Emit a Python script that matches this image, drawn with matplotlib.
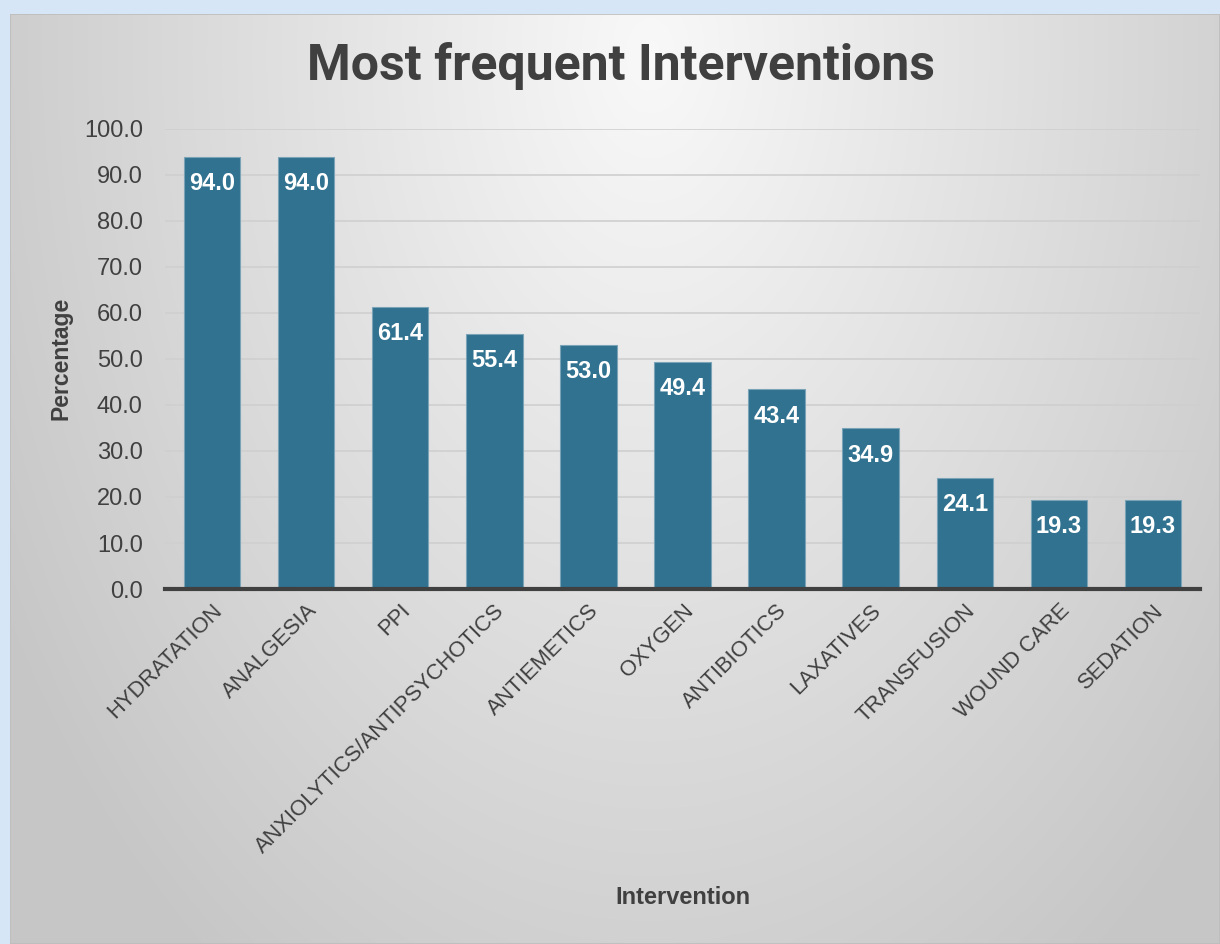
import numpy as np
import matplotlib.pyplot as plt
from matplotlib.patches import Rectangle

plt.rcParams['font.family'] = ['Liberation Sans', 'DejaVu Sans']

categories = ['HYDRATATION', 'ANALGESIA', 'PPI', 'ANXIOLYTICS/ANTIPSYCHOTICS',
              'ANTIEMETICS', 'OXYGEN', 'ANTIBIOTICS', 'LAXATIVES',
              'TRANSFUSION', 'WOUND CARE', 'SEDATION']
values = [94.0, 94.0, 61.4, 55.4, 53.0, 49.4, 43.4, 34.9, 24.1, 19.3, 19.3]
yticks = np.arange(0, 101, 10)

W, H = 1220, 944
fig = plt.figure(figsize=(W / 100, H / 100), dpi=100)
fig.patch.set_facecolor('#d6e6f7')

# panel with radial gradient
px0 = 10 / W
bg = fig.add_axes([px0, 0.0, 1 - px0, (H - 14) / H], zorder=-10)
yy, xx = np.mgrid[0:930, 0:1210]
d = np.sqrt(((xx - 640) / 900.0) ** 2 + ((yy - 40) / 1350.0) ** 2)
g = np.clip(0.975 - 0.236 * d, 0.78, 1.0)
bg.imshow(np.dstack([g, g, g]), aspect='auto', extent=[0, 1, 0, 1], origin='upper')
bg.add_patch(Rectangle((0, 0), 1, 1, transform=bg.transAxes, fill=False,
                       edgecolor='#bdbdbd', lw=1.2))
bg.axis('off')

ax = fig.add_axes([165 / W, 1 - 589 / H, 1035 / W, 460 / H])
ax.patch.set_alpha(0)
x = np.arange(len(categories))
bars = ax.bar(x, values, width=0.6, color='#30728f', edgecolor='#7aa3b8',
              linewidth=0.8, zorder=3)
for b, v in zip(bars, values):
    ax.text(b.get_x() + b.get_width() / 2, v - 5.8, f'{v:.1f}', ha='center',
            va='center', color='white', fontsize=17, fontweight='bold', zorder=4)

ax.set_xlim(-0.5, len(categories) - 0.5)
ax.set_ylim(0, 100)
ax.set_yticks(yticks)
ax.set_yticklabels([f'{t:.1f}' for t in yticks], fontsize=17, color='#404040')
ax.set_xticks(x)
ax.set_xticklabels(categories, rotation=45, ha='right', rotation_mode='anchor',
                   fontsize=15.8, color='#404040')
ax.tick_params(axis='y', length=0, pad=16)
ax.tick_params(axis='x', length=0, pad=8)
ax.grid(axis='y', color='#cfcfcf', lw=1.2, zorder=0)
for s in ['top', 'right', 'left']:
    ax.spines[s].set_visible(False)
ax.spines['bottom'].set_color('#404040')
ax.spines['bottom'].set_linewidth(3)
ax.spines['bottom'].set_zorder(5)

fig.text(61 / W, 1 - 358 / H, 'Percentage', ha='center', va='center', rotation=90,
         fontsize=16.5, fontweight='bold', color='#404040')
fig.text(683 / W, 1 - 897 / H, 'Intervention', ha='center', va='center',
         fontsize=17, fontweight='bold', color='#404040')
fig.text(621 / W, 1 - 66 / H, 'Most frequent Interventions', ha='center',
         va='center', fontsize=36, fontweight='bold', color='#404040',
         family=['Roboto', 'DejaVu Sans'])

fig.savefig('out.png', dpi=100, facecolor=fig.get_facecolor())
